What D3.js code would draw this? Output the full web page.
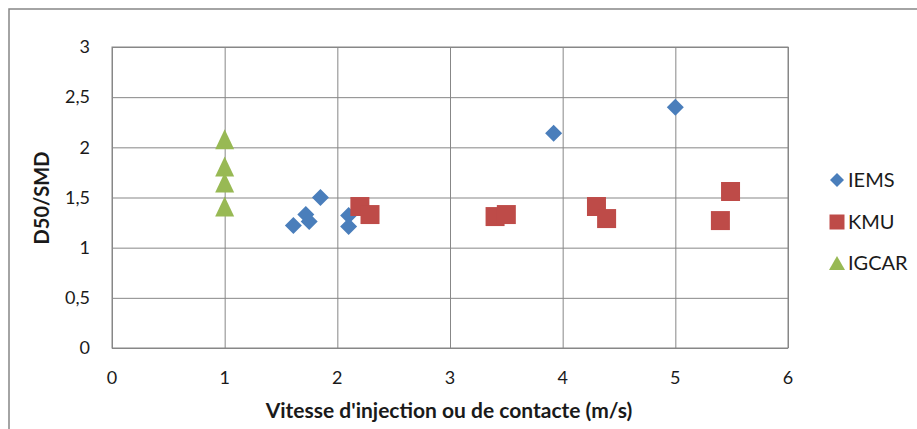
<!DOCTYPE html>
<html><head><meta charset="utf-8">
<script src="https://cdn.jsdelivr.net/npm/d3@7"></script>
<style>body{margin:0;background:#fff}svg{display:block}</style>
</head><body><svg id="c" width="917" height="429"></svg>
<script>
const iemsX = [1.61, 1.72, 1.75, 1.85, 2.10, 2.10, 3.92, 5.00];
const iemsY = [1.22, 1.33, 1.26, 1.50, 1.32, 1.21, 2.14, 2.40];
const kmuX = [2.20, 2.29, 3.40, 3.50, 4.30, 4.39, 5.40, 5.49];
const kmuY = [1.41, 1.33, 1.31, 1.33, 1.41, 1.29, 1.27, 1.56];
const igcarX = [1, 1, 1, 1];
const igcarY = [2.08, 1.81, 1.65, 1.41];
const xTicks = [0, 1, 2, 3, 4, 5, 6];
const yTicks = [0, 0.5, 1, 1.5, 2, 2.5, 3];
const seriesNames = ["IEMS", "KMU", "IGCAR"];
const seriesColors = ["#4A7EBB", "#BE4B48", "#98B954"];
const xTitle = "Vitesse d'injection ou de contacte (m/s)";
const yTitle = "D50/SMD";

const font = "Lato, 'Open Sans', sans-serif";
const svg = d3.select("#c");
const L = 112, R = 788, T = 47, B = 348;
const x = d3.scaleLinear().domain([0, 6]).range([L, R]);
const y = d3.scaleLinear().domain([0, 3]).range([B, T]);
const fmt = d => d3.format("")(d).replace(".", ",");

svg.append("rect").attr("x", 9).attr("y", 9).attr("width", 920).attr("height", 430)
  .attr("fill", "#fff").attr("stroke", "#878787").attr("stroke-width", 1.5);

const g = svg.append("g");
g.append("g").attr("transform", `translate(0,${B})`)
  .call(d3.axisBottom(x).tickValues(xTicks).tickSize(-(B - T)).tickFormat(""))
  .call(s => s.select(".domain").remove())
  .selectAll("line").attr("stroke", "#878787").attr("stroke-width", 1);
g.append("g").attr("transform", `translate(${L},0)`)
  .call(d3.axisLeft(y).tickValues(yTicks).tickSize(-(R - L)).tickFormat(""))
  .call(s => s.select(".domain").remove())
  .selectAll("line").attr("stroke", "#878787").attr("stroke-width", 1);
svg.append("rect").attr("x", L).attr("y", T).attr("width", R - L).attr("height", B - T)
  .attr("fill", "none").attr("stroke", "#878787").attr("stroke-width", 1);

svg.append("g").selectAll("text").data(yTicks).join("text")
  .attr("x", 90).attr("y", d => y(d)).attr("dy", "0.35em").attr("text-anchor", "end")
  .attr("font-family", font).attr("font-size", 18).attr("fill", "#1a1a1a").text(fmt);
svg.append("g").selectAll("text").data(xTicks).join("text")
  .attr("x", d => x(d)).attr("y", 378).attr("dy", "0.35em").attr("text-anchor", "middle")
  .attr("font-family", font).attr("font-size", 18).attr("fill", "#1a1a1a").text(fmt);

svg.append("text").attr("x", 449).attr("y", 411).attr("dy", "0.35em")
  .attr("text-anchor", "middle").attr("font-family", font).attr("font-size", 21)
  .attr("font-weight", "bold").attr("fill", "#1a1a1a").text(xTitle);
svg.append("text").attr("transform", "translate(42,198) rotate(-90)").attr("dy", "0.35em")
  .attr("text-anchor", "middle").attr("font-family", font).attr("font-size", 20)
  .attr("font-weight", "bold").attr("fill", "#1a1a1a").text(yTitle);

function diamond(w) { const h = w / 2; return `M0,${-h}L${h},0L0,${h}L${-h},0Z`; }
function square(w) { const h = w / 2; return `M${-h},${-h}H${h}V${h}H${-h}Z`; }
function triangle(w, ht) { return `M0,${-ht / 2}L${w / 2},${ht / 2}L${-w / 2},${ht / 2}Z`; }
const shapeFns = [() => diamond(17), () => square(19), () => triangle(19, 20)];
const legendFns = [() => diamond(14), () => square(15), () => triangle(16, 14)];

const sets = [[iemsX, iemsY], [kmuX, kmuY], [igcarX, igcarY]];
sets.forEach(([xs, ys], i) => {
  const pts = xs.map((v, k) => [v, ys[k]]);
  svg.append("g").selectAll("path").data(pts).join("path")
    .attr("d", shapeFns[i]())
    .attr("transform", d => `translate(${x(d[0])},${y(d[1])})`)
    .attr("fill", seriesColors[i]);
});

const ly = [180, 222, 263];
seriesNames.forEach((n, i) => {
  const lg = svg.append("g").attr("transform", `translate(837,${ly[i]})`);
  lg.append("path").attr("d", legendFns[i]()).attr("fill", seriesColors[i]);
  lg.append("text").attr("x", 11).attr("dy", "0.35em").attr("font-family", font)
    .attr("font-size", 20).attr("fill", "#1a1a1a").text(n);
});
</script></body></html>
